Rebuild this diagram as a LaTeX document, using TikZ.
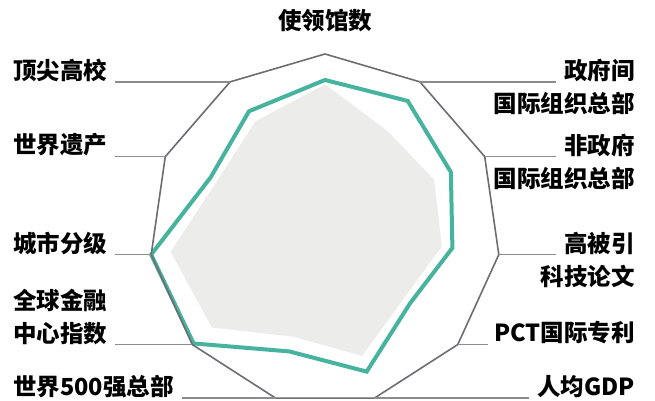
\documentclass[tikz,border=0pt]{standalone}
\usepackage{fontspec}
\setmainfont{Noto Sans CJK SC}
\usetikzlibrary{positioning,calc}
\definecolor{radarteal}{HTML}{45B39D}
\definecolor{framegray}{HTML}{6E6C72}
\definecolor{leadergray}{HTML}{8C8B8F}
\definecolor{benchgray}{HTML}{ECECEB}
\tikzset{axislabel/.style = {font=\bfseries\fontsize{23.5}{28}\selectfont, inner sep=0pt}}
\tikzset{leader/.style = {draw=leadergray, line width=1.3pt}}
\tikzset{frame/.style = {draw=framegray, line width=1.6pt, line join=miter}}
\tikzset{score/.style = {draw=radarteal, line width=4pt, line join=miter}}
\tikzset{bench/.style = {fill=benchgray}}

\begin{document}
\begin{tikzpicture}[x=1pt, y=1pt]
  \useasboundingbox (0,0) rectangle (655,401);
  \coordinate (c) at (325,171.4);
  \coordinate (lx) at (13,0);
  \coordinate (rx) at (635,0);
  \foreach \k in {0,...,10}
    \coordinate (v\k) at ($(c)+({90-\k*360/11}:175.6)$);

  \fill[bench] ($(c)+(90:{0.827*175.6})$)
    \foreach \r [count=\k] in {0.664,0.684,0.672,0.596,0.75,0.636,0.852,0.888,0.674,0.733}
      { -- ($(c)+({90-\k*360/11}:{\r*175.6})$) } -- cycle;
  \draw[score] ($(c)+(90:{0.852*175.6})$)
    \foreach \r [count=\k] in {0.871,0.788,0.733,0.641,0.843,0.723,0.99,1.0,0.716,0.801}
      { -- ($(c)+({90-\k*360/11}:{\r*175.6})$) } -- cycle;
  \draw[frame] (v0) \foreach \k in {1,...,10} { -- (v\k) } -- cycle;

  \node [axislabel, anchor=south] (t0) at ([yshift=22pt]v0) {使领馆数};

  \node [axislabel, anchor=south east] (t1) at (rx |- v1) {政府间};
  \node [axislabel, anchor=north east] (t1b) at ([yshift=-10pt]t1.south east) {国际组织总部};
  \node [axislabel, anchor=south east] (t2) at (rx |- v2) {非政府};
  \node [axislabel, anchor=north east] (t2b) at ([yshift=-10pt]t2.south east) {国际组织总部};
  \node [axislabel, anchor=south east] (t3) at (rx |- v3) {高被引};
  \node [axislabel, anchor=north east] (t3b) at ([yshift=-10pt]t3.south east) {科技论文};
  \node [axislabel, anchor=south east] (t4) at (rx |- v4) {PCT国际专利};
  \node [axislabel, anchor=south east] (t5) at (rx |- v5) {人均GDP};

  \node [axislabel, anchor=south west] (t6) at (lx |- v6) {世界500强总部};
  \node [axislabel, anchor=south west] (t7) at (lx |- v7) {中心指数};
  \node [axislabel, anchor=south west] (t7b) at ([yshift=10pt]t7.north west) {全球金融};
  \node [axislabel, anchor=south west] (t8) at (lx |- v8) {城市分级};
  \node [axislabel, anchor=south west] (t9) at (lx |- v9) {世界遗产};
  \node [axislabel, anchor=south west] (t10) at (lx |- v10) {顶尖高校};

  \draw[leader] (v1) -- ([xshift=-8pt]t1.south west);
  \draw[leader] (v2) -- ([xshift=-8pt]t2.south west);
  \draw[leader] (v3) -- ([xshift=-8pt]t3.south west);
  \draw[leader] (v4) -- ([xshift=-6pt]t4.south west);
  \draw[leader] (v5) -- ([xshift=-8pt]t5.south west);
  \draw[leader] (v6) -- ([xshift=8pt]t6.south east);
  \draw[leader] (v7) -- ([xshift=8pt]t7.south east);
  \draw[leader] (v8) -- ([xshift=8pt]t8.south east);
  \draw[leader] (v9) -- ([xshift=8pt]t9.south east);
  \draw[leader] (v10) -- ([xshift=8pt]t10.south east);
\end{tikzpicture}
\end{document}
